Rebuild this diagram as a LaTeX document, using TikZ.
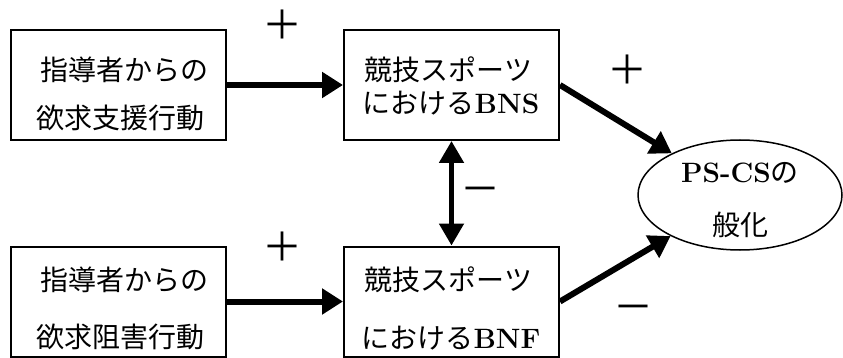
\documentclass[tikz,border=0pt]{standalone}
\usepackage{fontspec}
\newfontfamily\cjk{Noto Sans CJK JP}
\usetikzlibrary{arrows.meta,shapes.geometric}
\begin{document}
\begin{tikzpicture}[x=1pt,y=-1pt,
  box/.style={draw,line width=2pt,inner sep=0pt,minimum width=215pt,minimum height=110pt},
  txt/.style={inner sep=0pt,font=\cjk\fontsize{28}{32}\selectfont},
  sign/.style={inner sep=0pt,font=\cjk\fontsize{40}{40}\selectfont},
  bigarrow/.style={line width=6pt,-{Triangle[length=21pt,width=25pt]}},
  dblarrow/.style={line width=5pt,{Triangle[length=22pt,width=24pt]}-{Triangle[length=22pt,width=24pt]}},
]
\useasboundingbox (0,0) rectangle (843,358);
\node[box] (b1) at (118.5,85) {};
\node[box] (b2) at (451.5,85) {};
\node[box] (b3) at (118.5,301.5) {};
\node[box] (b4) at (451.5,301.5) {};
\node[draw,line width=1.5pt,ellipse,minimum width=204pt,minimum height=110pt,inner sep=0pt] (e) at (740,195) {};

\node[txt] (t1a) at (124,70) {指導者からの};
\node[txt] (t1b) at (120,118) {欲求支援行動};
\node[txt] (t2a) at (448.5,70) {競技スポーツ};
\node[txt] (t2b) at (451,103) {における{\rmfamily\bfseries BNS}};
\node[txt] (t3a) at (124,280) {指導者からの};
\node[txt] (t3b) at (120,337) {欲求阻害行動};
\node[txt] (t4a) at (448.5,280) {競技スポーツ};
\node[txt] (t4b) at (451,338) {における{\rmfamily\bfseries BNF}};
\node[txt] (t5a) at (740,173) {{\rmfamily\bfseries PS-CS}の};
\node[txt] (t5b) at (740,225) {般化};

\draw[bigarrow] (b1.east) -- (b2.west);
\draw[bigarrow] (b3.east) -- (b4.west);
\draw[bigarrow] (b2.east) -- (e);
\draw[bigarrow] (b4.east) -- (e);
\draw[dblarrow] (b2.south) -- (b4.north);

\node[sign] (p1) at (282,25) {＋};
\node[sign] (p2) at (627,70) {＋};
\node[sign] (p3) at (282,247) {＋};
\node[sign] (m1) at (480,195) {－};
\node[sign] (m2) at (633,313) {－};
\end{tikzpicture}
\end{document}
